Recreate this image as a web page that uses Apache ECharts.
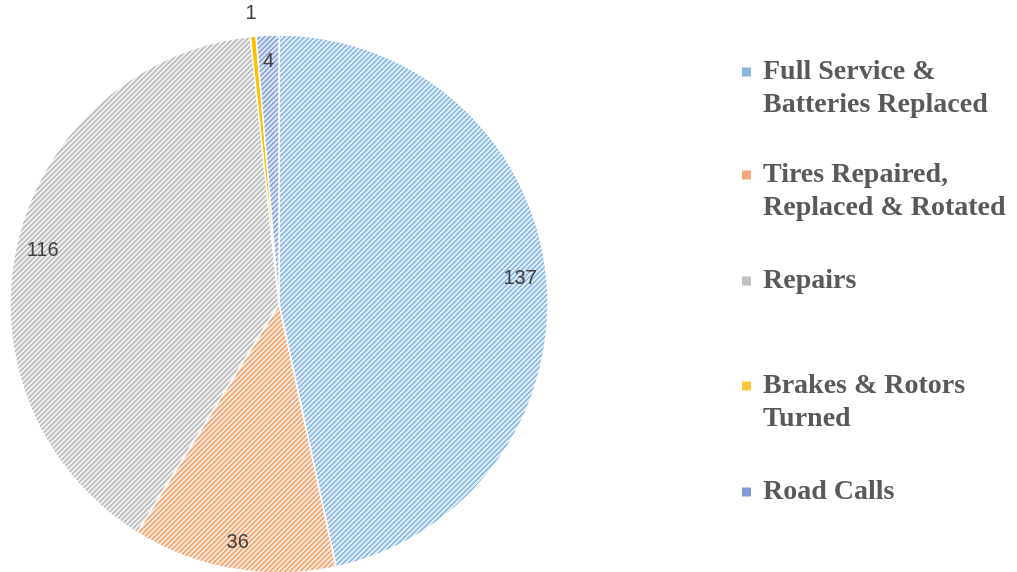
<!DOCTYPE html>
<html>
<head>
<meta charset="utf-8">
<script src="https://cdn.jsdelivr.net/npm/echarts@6/dist/echarts.min.js"></script>
<style>
  html, body { margin: 0; padding: 0; background: #fff; }
  #chart { width: 1017px; height: 572px; }
</style>
</head>
<body>
<div id="chart"></div>
<script>
const categories = [
  "Full Service &\nBatteries Replaced",
  "Tires Repaired,\nReplaced & Rotated",
  "Repairs",
  "Brakes & Rotors\nTurned",
  "Road Calls"
];
const values = [137, 36, 116, 1, 4];

const stripeFg = ["#88b7e5", "#f3a470", "#bababa", "#ffc000", "#85a2da"];
const stripeBg = ["#dbe9f7", "#fce3d2", "#ececec", "#ffc000", "#d6e0f3"];
const markerColors = ["#8ab6e2", "#f1a87a", "#bfbfbf", "#ffc73a", "#7f9cd6"];

function hatch(fg, bg) {
  const n = 5;
  const c = document.createElement("canvas");
  c.width = n;
  c.height = n;
  const ctx = c.getContext("2d");
  ctx.fillStyle = bg;
  ctx.fillRect(0, 0, n, n);
  ctx.fillStyle = fg;
  for (let x = 0; x < n; x++) {
    for (let y = 0; y < n; y++) {
      if ((x + y) % n < 2) ctx.fillRect(x, y, 1, 1);
    }
  }
  return { image: c, repeat: "repeat" };
}

const legendTops = [58, 161, 267, 372, 478];
const labelFont = { fontFamily: "Liberation Sans", fontSize: 20, color: "#404040" };

const chart = echarts.init(document.getElementById("chart"), null, { renderer: "canvas" });

chart.setOption({
  backgroundColor: "#fff",
  animation: false,
  legend: categories.map((name, i) => ({
    data: [name],
    left: 737,
    top: legendTops[i],
    icon: "none",
    itemWidth: 0,
    padding: 0,
    selectedMode: false,
    formatter: (n) =>
      n.split("\n").map((line, j) => (j === 0 ? "{m| }" : "{s| }") + "{t|" + line + "}").join("\n"),
    textStyle: {
      rich: {
        m: { width: 9, height: 9, backgroundColor: markerColors[i] },
        s: { width: 9 },
        t: {
          fontFamily: "Liberation Serif",
          fontWeight: "bold",
          fontSize: 28,
          color: "#595959",
          lineHeight: 33,
          padding: [0, 0, 0, 12]
        }
      }
    }
  })),
  series: [
    {
      type: "pie",
      center: [279, 304],
      radius: [0, 269],
      startAngle: 90,
      clockwise: true,
      silent: true,
      label: { show: false },
      labelLine: { show: false },
      itemStyle: { borderColor: "#fff", borderWidth: 1.5 },
      data: categories.map((name, i) => ({
        name,
        value: values[i],
        itemStyle: { color: i === 3 ? stripeFg[i] : hatch(stripeFg[i], stripeBg[i]) }
      }))
    },
    {
      // label ring near the outer edge
      type: "pie",
      center: [279, 304],
      radius: [210, 269],
      startAngle: 90,
      silent: true,
      avoidLabelOverlap: false,
      itemStyle: { color: "rgba(0,0,0,0)" },
      label: Object.assign({ show: true, position: "inside", formatter: "{c}" }, labelFont),
      labelLine: { show: false },
      data: categories.map((name, i) => ({
        name,
        value: values[i],
        label: { show: i !== 3 }
      }))
    },
    {
      // ring just outside the pie for the tiny slice
      type: "pie",
      center: [279, 304],
      radius: [272, 306],
      startAngle: 90,
      silent: true,
      avoidLabelOverlap: false,
      itemStyle: { color: "rgba(0,0,0,0)" },
      label: Object.assign({ show: true, position: "inside", formatter: "{c}" }, labelFont),
      labelLine: { show: false },
      data: categories.map((name, i) => ({
        name,
        value: values[i],
        label: { show: i === 3 }
      }))
    }
  ]
});
</script>
</body>
</html>
